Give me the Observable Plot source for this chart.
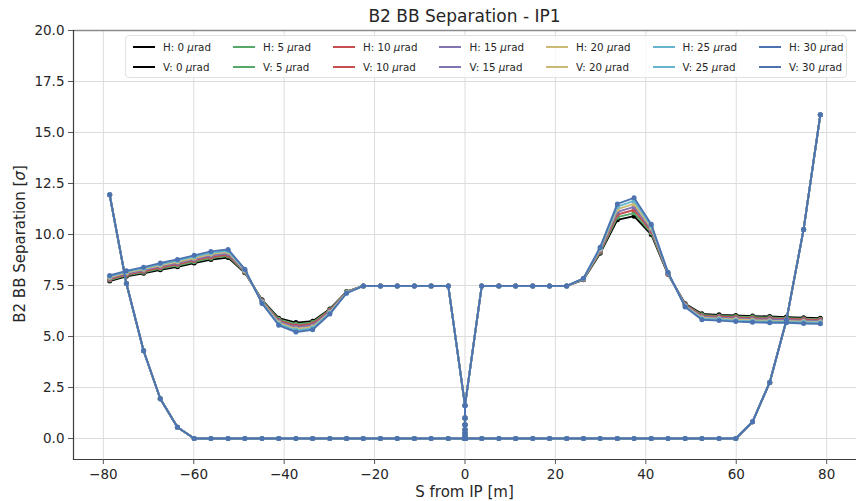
<!DOCTYPE html>
<html>
<head>
<meta charset="utf-8">
<script src="https://cdn.jsdelivr.net/npm/d3@7"></script>
<script src="https://cdn.jsdelivr.net/npm/@observablehq/plot@0.6"></script>
<style>
  body { margin: 0; background: #fff; font-family: "DejaVu Sans", sans-serif; color: #262626; }
  #wrap { position: relative; width: 856px; height: 501px; overflow: hidden; }
  #wrap svg { position: absolute; left: 0; top: 0; }
  .title { position: absolute; left: 73px; width: 783px; top: 6px; text-align: center; font-size: 17px; line-height: 20px; }
  .xlabel { position: absolute; left: 73px; width: 783px; top: 483px; text-align: center; font-size: 15px; line-height: 18px; }
  .ylabel { position: absolute; left: 20px; top: 244px; transform: translate(-50%, -50%) rotate(-90deg); white-space: nowrap; font-size: 15px; line-height: 18px; }
  .legend { position: absolute; left: 125px; top: 35px; width: 722px; height: 43px; box-sizing: border-box;
            background: rgba(255,255,255,0.8); border: 1px solid #e2e2e2; border-radius: 4px;
            display: flex; gap: 22px; padding: 4px 0 0 7px; font-size: 10.3px; }
  .col { display: flex; flex-direction: column; gap: 7px; }
  .entry { display: flex; align-items: center; height: 13px; white-space: nowrap; }
  .swatch { width: 22px; height: 0; border-top: 2px solid; margin-right: 8px; }
</style>
</head>
<body>
<div id="wrap">
  <div class="title">B2 BB Separation - IP1</div>
  <div class="xlabel">S from IP [m]</div>
  <div class="ylabel">B2 BB Separation [<i>σ</i>]</div>
</div>
<script>
// Longitudinal positions of the beam-beam encounters around IP1 [m];
// the head-on interaction at the IP is split into 13 slices at s = 0
const sPos = [-78.6,-74.9,-71.1,-67.4,-63.6,-59.9,-56.2,-52.4,-48.7,-44.9,-41.2,-37.4,-33.7,-29.9,-26.2,-22.5,-18.7,-15.0,-11.2,-7.5,-3.7,
              0,0,0,0,0,0,0,0,0,0,0,0,0,
              3.7,7.5,11.2,15.0,18.7,22.5,26.2,29.9,33.7,37.4,41.2,44.9,48.7,52.4,56.2,59.9,63.6,67.4,71.1,74.9,78.6];

// Separation [sigma] for horizontal offsets of 0..30 urad
const h0  = [7.72,7.95,8.10,8.27,8.42,8.60,8.77,8.87,8.12,6.80,5.90,5.68,5.75,6.35,7.20,7.48,7.48,7.48,7.48,7.48,7.48,
             1.62,1.00,0.67,0.43,0.26,0.12,0.00,0.12,0.26,0.43,0.67,1.00,1.62,
             7.48,7.48,7.48,7.48,7.48,7.48,7.78,9.08,10.72,10.90,10.00,8.05,6.60,6.11,6.06,6.03,6.00,5.98,5.95,5.92,5.90];
const h5  = [7.77,8.00,8.15,8.33,8.48,8.66,8.84,8.94,8.15,6.77,5.84,5.60,5.68,6.31,7.19,7.48,7.48,7.48,7.48,7.48,7.48,
             1.62,1.00,0.67,0.43,0.26,0.12,0.00,0.12,0.26,0.43,0.67,1.00,1.62,
             7.48,7.48,7.48,7.48,7.48,7.48,7.79,9.13,10.85,11.05,10.08,8.07,6.57,6.06,6.01,5.98,5.95,5.93,5.90,5.87,5.85];
const h10 = [7.81,8.04,8.20,8.38,8.54,8.73,8.90,9.00,8.18,6.74,5.78,5.53,5.61,6.27,7.17,7.48,7.48,7.48,7.48,7.48,7.48,
             1.62,1.00,0.67,0.43,0.26,0.12,0.00,0.12,0.26,0.43,0.67,1.00,1.62,
             7.48,7.48,7.48,7.48,7.48,7.48,7.80,9.18,10.98,11.20,10.17,8.08,6.55,6.01,5.97,5.93,5.90,5.88,5.86,5.83,5.81];
const h15 = [7.86,8.09,8.25,8.44,8.60,8.79,8.97,9.07,8.21,6.71,5.73,5.45,5.54,6.23,7.16,7.48,7.48,7.48,7.48,7.48,7.48,
             1.62,1.00,0.67,0.43,0.26,0.12,0.00,0.12,0.26,0.43,0.67,1.00,1.62,
             7.48,7.48,7.48,7.48,7.48,7.48,7.82,9.23,11.11,11.35,10.25,8.10,6.52,5.97,5.92,5.88,5.85,5.83,5.81,5.78,5.76];
const h20 = [7.90,8.13,8.30,8.49,8.66,8.85,9.04,9.14,8.24,6.68,5.67,5.37,5.47,6.18,7.15,7.48,7.48,7.48,7.48,7.48,7.48,
             1.62,1.00,0.67,0.43,0.26,0.12,0.00,0.12,0.26,0.43,0.67,1.00,1.62,
             7.48,7.48,7.48,7.48,7.48,7.48,7.83,9.28,11.24,11.50,10.33,8.12,6.49,5.92,5.87,5.83,5.80,5.77,5.76,5.73,5.71];
const h25 = [7.95,8.18,8.35,8.55,8.72,8.92,9.10,9.20,8.27,6.65,5.61,5.30,5.40,6.14,7.13,7.48,7.48,7.48,7.48,7.48,7.48,
             1.62,1.00,0.67,0.43,0.26,0.12,0.00,0.12,0.26,0.43,0.67,1.00,1.62,
             7.48,7.48,7.48,7.48,7.48,7.48,7.84,9.33,11.37,11.65,10.42,8.13,6.47,5.87,5.83,5.78,5.75,5.72,5.72,5.69,5.67];
const h30 = [7.99,8.22,8.40,8.60,8.78,8.98,9.17,9.27,8.30,6.62,5.55,5.22,5.33,6.10,7.12,7.48,7.48,7.48,7.48,7.48,7.48,
             1.62,1.00,0.67,0.43,0.26,0.12,0.00,0.12,0.26,0.43,0.67,1.00,1.62,
             7.48,7.48,7.48,7.48,7.48,7.48,7.85,9.38,11.50,11.80,10.50,8.15,6.44,5.82,5.78,5.73,5.70,5.67,5.67,5.64,5.62];

// Separation [sigma] in the vertical plane (identical for every offset)
const vSep = [11.95,7.60,4.30,1.95,0.55,0,0,0,0,0,0,0,0,0,0,0,0,0,0,0,0,
              0,0,0,0,0,0,0,0,0,0,0,0,0,
              0,0,0,0,0,0,0,0,0,0,0,0,0,0,0,0,0.82,2.75,5.80,10.25,15.87];

const angles = [0, 5, 10, 15, 20, 25, 30];
const hSeries = [h0, h5, h10, h15, h20, h25, h30];
const colors = ["#000000", "#55A868", "#C44E52", "#8172B2", "#CCB974", "#64B5CD", "#4C72B0"];

const xTicks = [-80, -60, -40, -20, 0, 20, 40, 60, 80];
const yTicks = [0, 2.5, 5, 7.5, 10, 12.5, 15, 17.5, 20];

// One line + markers per series, drawn H then V for each angle
const seriesMarks = [];
angles.forEach((a, i) => {
  for (const [plane, vals] of [["H", hSeries[i]], ["V", vSep]]) {
    const rows = sPos.map((s, j) => ({s, sep: vals[j], series: `${plane}: ${a}`}));
    seriesMarks.push(Plot.line(rows, {x: "s", y: "sep", stroke: colors[i], strokeWidth: 1.9}));
    seriesMarks.push(Plot.dot(rows, {x: "s", y: "sep", fill: colors[i], r: 2.5, stroke: "none"}));
  }
});

const chart = Plot.plot({
  width: 856,
  height: 501,
  marginTop: 30,
  marginBottom: 42,
  marginLeft: 73,
  marginRight: 0,
  style: {fontFamily: "DejaVu Sans, sans-serif", fontSize: "13.5px", color: "#262626", background: "transparent", overflow: "visible"},
  x: {domain: [-86.6, 86.6]},
  y: {domain: [-1.03, 20]},
  marks: [
    Plot.gridX(xTicks, {stroke: "#dcdcdc", strokeOpacity: 1, strokeWidth: 1}),
    Plot.gridY(yTicks, {stroke: "#dcdcdc", strokeOpacity: 1, strokeWidth: 1}),
    Plot.frame({anchor: "top", stroke: "#8a8a8a", strokeWidth: 1.4}),
    Plot.frame({anchor: "left", stroke: "#3c3c3c", strokeWidth: 1.2}),
    Plot.frame({anchor: "bottom", stroke: "#3c3c3c", strokeWidth: 1.2}),
    Plot.axisX(xTicks, {tickSize: 5, tickPadding: 5, stroke: "#555", label: null,
                        tickFormat: d => (d < 0 ? "\u2212" + Math.abs(d) : String(d))}),
    Plot.axisY(yTicks, {tickSize: 5, tickPadding: 4, stroke: "#555", label: null,
                        tickFormat: d3.format(".1f")}),
    ...seriesMarks
  ]
});

const wrap = document.getElementById("wrap");
wrap.insertBefore(chart, wrap.firstChild);

// Legend: 7 columns, H entry above V entry for each angle
const legend = document.createElement("div");
legend.className = "legend";
angles.forEach((a, i) => {
  const col = document.createElement("div");
  col.className = "col";
  for (const plane of ["H", "V"]) {
    const e = document.createElement("div");
    e.className = "entry";
    e.innerHTML = `<span class="swatch" style="border-color:${colors[i]}"></span><span>${plane}: ${a} <i>&mu;</i>rad</span>`;
    col.appendChild(e);
  }
  legend.appendChild(col);
});
wrap.appendChild(legend);
</script>
</body>
</html>
